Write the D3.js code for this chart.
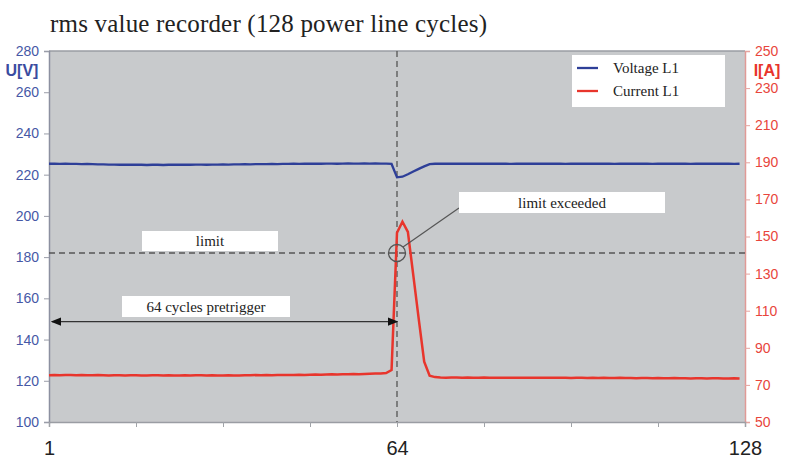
<!DOCTYPE html>
<html>
<head>
<meta charset="utf-8">
<script src="https://cdn.jsdelivr.net/npm/d3@7"></script>
<style>
body{margin:0;background:#fff;}
svg{display:block;}
</style>
</head>
<body>
<div id="chart"></div>
<script>
// cycle ticks on the bottom axis (every 16 cycles)
const cycleTicks=[0,16,32,48,64,80,96,112,128];
const cycleLabels=["1","","","","64","","","","128"];
const voltTicks=[100,120,140,160,180,200,220,240,260,280];
const ampTicks=[50,70,90,110,130,150,170,190,210,230,250];

// rms values, one per power line cycle
const voltageL1=[
225.3,225.3,225.2,225.3,225.2,225.2,225.1,225.2,225.1,225.0,
225.0,224.9,224.9,224.8,224.8,224.9,224.8,224.8,224.7,224.8,
224.8,224.7,224.8,224.8,224.9,224.8,224.8,224.9,224.9,224.8,
224.9,224.9,225.0,224.9,225.0,225.0,225.1,225.0,225.1,225.1,
225.1,225.2,225.1,225.2,225.2,225.3,225.2,225.3,225.3,225.4,
225.3,225.4,225.4,225.3,225.4,225.5,225.4,225.4,225.5,225.4,
225.5,225.4,225.4,225.2,
218.7,219.0,220.2,221.5,222.8,224.0,225.1,
225.3,225.4,225.3,225.4,225.3,225.3,225.4,225.3,225.3,
225.4,225.3,225.3,225.4,225.3,225.2,225.3,225.3,225.4,225.3,
225.3,225.3,225.4,225.3,225.3,225.2,225.3,225.3,225.4,225.3,
225.3,225.4,225.3,225.3,225.2,225.3,225.3,225.3,225.4,225.3,
225.3,225.2,225.3,225.3,225.3,225.4,225.3,225.3,225.2,225.3,
225.3,225.3,225.4,225.3,225.3,225.3,225.2,225.3
];
const currentL1=[
75.2,75.3,75.2,75.3,75.3,75.2,75.3,75.2,75.2,75.3,
75.2,75.1,75.2,75.2,75.1,75.2,75.2,75.1,75.1,75.2,
75.2,75.1,75.2,75.1,75.1,75.2,75.1,75.2,75.2,75.1,
75.2,75.1,75.1,75.2,75.1,75.1,75.2,75.2,75.3,75.2,
75.3,75.2,75.3,75.4,75.4,75.3,75.5,75.4,75.5,75.6,
75.5,75.6,75.7,75.6,75.8,75.8,75.9,75.8,75.9,76.0,
76.1,76.2,76.4,78.0,
152.0,158.0,152.5,129.0,105.5,82.5,75.0,
74.2,74.0,73.9,74.0,74.0,73.9,74.0,73.9,73.9,
74.0,73.9,73.9,73.8,73.9,73.9,73.8,73.9,73.8,73.8,
73.9,73.8,73.8,73.9,73.8,73.8,73.7,73.8,73.8,73.7,
73.8,73.7,73.8,73.7,73.7,73.8,73.7,73.7,73.6,73.7,
73.7,73.6,73.7,73.6,73.6,73.7,73.6,73.6,73.5,73.6,
73.6,73.5,73.6,73.6,73.5,73.5,73.6,73.5
];
const seriesNames=["Voltage L1","Current L1"];
const triggerCycle=64;
const limitVolt=182;
const arrowVolt=148.7;

const width=791;
const height=459;
const margin={top:51,bottom:37,left:49,right:46};

const svg=d3.select("#chart")
.append('svg')
.attr('width',width)
.attr('height',height);

const x=d3.scaleLinear()
.domain([0,128])
.range([margin.left,width-margin.right]);

const yV=d3.scaleLinear()
.domain([100,280])
.range([height-margin.bottom,margin.top]);

const yA=d3.scaleLinear()
.domain([50,250])
.range([height-margin.bottom,margin.top]);

const blue='#2e3f98', red='#e8352c';
const serif='"Liberation Serif","DejaVu Serif",serif';
const sans='"Liberation Sans",Arial,sans-serif';

// title
svg.append('text')
.attr('x',50).attr('y',32)
.attr('font-family',serif).attr('font-size',25)
.attr('textLength',437).attr('lengthAdjust','spacing')
.attr('fill','#222')
.text('rms value recorder (128 power line cycles)');

// plot background
svg.append('rect')
.attr('x',x(0)).attr('y',yV(280))
.attr('width',x(128)-x(0)).attr('height',yV(100)-yV(280))
.attr('fill','#c8cacc');
svg.append('line')
.attr('x1',x(0)).attr('x2',x(128))
.attr('y1',yV(280)).attr('y2',yV(280))
.attr('stroke','#9a9da3').attr('stroke-width',1.5);

// left axis
svg.append('g')
.attr('transform',`translate(${x(0)},0)`)
.call(d3.axisLeft(yV).tickValues(voltTicks).tickSize(5).tickPadding(5))
.call(g=>{
  g.select('.domain').attr('stroke','#8c90a0').attr('stroke-width',1.5);
  g.selectAll('.tick line').attr('stroke','#9a9da8');
  g.selectAll('text').attr('fill','#4658a6').attr('font-family',sans).attr('font-size',14);
});

// right axis
svg.append('g')
.attr('transform',`translate(${x(128)},0)`)
.call(d3.axisRight(yA).tickValues(ampTicks).tickSize(5).tickPadding(5))
.call(g=>{
  g.select('.domain').attr('stroke','#e09a96').attr('stroke-width',1.5);
  g.selectAll('.tick line').attr('stroke','#e6a39e');
  g.selectAll('text').attr('fill','#e8453c').attr('font-family',sans).attr('font-size',14);
});

// bottom axis
svg.append('g')
.attr('transform',`translate(0,${yV(100)})`)
.call(d3.axisBottom(x).tickValues(cycleTicks).tickFormat((d,i)=>cycleLabels[i]).tickSize(5).tickPadding(14))
.call(g=>{
  g.select('.domain').attr('stroke','#9a9da3').attr('stroke-width',1.5);
  g.selectAll('.tick line').attr('stroke','#a0a3a8');
  g.selectAll('text').attr('fill','#222').attr('font-family',sans).attr('font-size',20);
});

// axis titles
svg.append('text').attr('x',22).attr('y',76)
.attr('text-anchor','middle').attr('font-family',sans).attr('font-weight','bold')
.attr('font-size',16).attr('fill','#3a4ca0').text('U[V]');
svg.append('text').attr('x',767).attr('y',76)
.attr('text-anchor','middle').attr('font-family',sans).attr('font-weight','bold')
.attr('font-size',16).attr('fill','#e8352c').text('I[A]');

// limit and trigger lines
svg.append('line')
.attr('x1',x(0)).attr('x2',x(128))
.attr('y1',yV(limitVolt)).attr('y2',yV(limitVolt))
.attr('stroke','#555').attr('stroke-width',1.3).attr('stroke-dasharray','6,4');
svg.append('line')
.attr('x1',x(triggerCycle)).attr('x2',x(triggerCycle))
.attr('y1',yV(280)).attr('y2',yV(100))
.attr('stroke','#555').attr('stroke-width',1.3).attr('stroke-dasharray','6,4');

// series lines
const idx=d3.range(128);
svg.append('path')
.datum(idx)
.attr('fill','none').attr('stroke',blue).attr('stroke-width',2.3)
.attr('d',d3.line().x(i=>x(i)).y(i=>yV(voltageL1[i])));
svg.append('path')
.datum(idx)
.attr('fill','none').attr('stroke',red).attr('stroke-width',2.5)
.attr('d',d3.line().x(i=>x(i)).y(i=>yA(currentL1[i])));

// pretrigger arrow
const defs=svg.append('defs');
defs.append('marker').attr('id','ah').attr('viewBox','0 0 10 10')
.attr('refX',9).attr('refY',5).attr('markerWidth',8).attr('markerHeight',8)
.attr('orient','auto-start-reverse')
.append('path').attr('d','M0,1L10,5L0,9Z').attr('fill','#111');
svg.append('line')
.attr('x1',x(0)+3).attr('x2',x(triggerCycle))
.attr('y1',yV(arrowVolt)).attr('y2',yV(arrowVolt))
.attr('stroke','#333').attr('stroke-width',1.3)
.attr('marker-start','url(#ah)').attr('marker-end','url(#ah)');

// circle at crossing and leader line
const cx=x(triggerCycle), cy=yV(limitVolt);
svg.append('circle').attr('cx',cx).attr('cy',cy).attr('r',8.5)
.attr('fill','none').attr('stroke','#555').attr('stroke-width',1.3);
svg.append('line')
.attr('x1',cx+6).attr('y1',cy-6).attr('x2',459).attr('y2',208)
.attr('stroke','#555').attr('stroke-width',1.2);

// label boxes
const boxes=[
  {text:'limit',x:142,y:231,w:136,h:20},
  {text:'64 cycles pretrigger',x:122,y:296,w:168,h:21},
  {text:'limit exceeded',x:459,y:192,w:206,h:21}
];
svg.selectAll('g.box').data(boxes).join('g').attr('class','box')
.each(function(d){
  const g=d3.select(this);
  g.append('rect').attr('x',d.x).attr('y',d.y).attr('width',d.w).attr('height',d.h).attr('fill','#fff');
  g.append('text').attr('x',d.x+d.w/2).attr('y',d.y+d.h/2+5)
  .attr('text-anchor','middle').attr('font-family',serif).attr('font-size',15)
  .attr('fill','#222').text(d.text);
});

// legend
const lg=svg.append('g');
lg.append('rect').attr('x',572).attr('y',55).attr('width',153).attr('height',52).attr('fill','#fff');
seriesNames.forEach((n,i)=>{
  const yy=68+i*23;
  lg.append('line').attr('x1',577).attr('x2',598).attr('y1',yy).attr('y2',yy)
  .attr('stroke',i?red:blue).attr('stroke-width',2.3);
  lg.append('text').attr('x',613).attr('y',yy+5)
  .attr('font-family',serif).attr('font-size',15).attr('fill','#222').text(n);
});
</script>
</body>
</html>
